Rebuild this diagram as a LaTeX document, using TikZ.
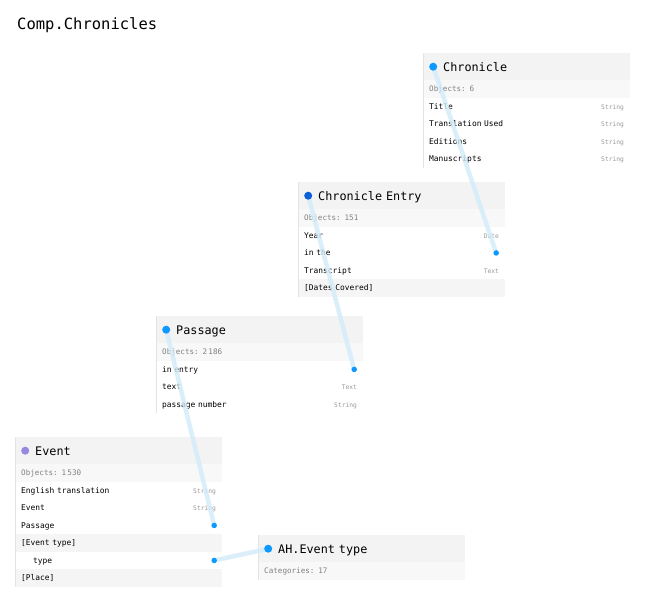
\documentclass[tikz,border=0pt]{standalone}
\usepackage{fontspec}
\setmonofont{DejaVu Sans Mono}
\usetikzlibrary{matrix,positioning}

\definecolor{hdrgray}{HTML}{F3F3F3}
\definecolor{subgray}{HTML}{F8F8F8}
\definecolor{rowgray}{HTML}{F5F5F5}
\definecolor{edgegray}{HTML}{E4E4E4}
\definecolor{dotblue}{HTML}{0D99FF}
\definecolor{dotdark}{HTML}{0B5FD8}
\definecolor{dotviolet}{HTML}{9787E0}
\definecolor{linkblue}{HTML}{D3EBFB}

\tikzset{
  tbl/.style={matrix of nodes, anchor=north west, inner sep=0pt, row sep=0pt,
    nodes={text width=195pt, inner xsep=6pt, inner ysep=0pt, outer sep=0pt,
      minimum height=17.5pt, text height=7.5pt, text depth=1.5pt, anchor=center,
      font=\ttfamily\fontsize{7.9}{9}\selectfont},
    row 1/.style={nodes={fill=hdrgray, minimum height=27pt, text height=10.5pt,
      text depth=1.5pt, font=\ttfamily\fontsize{11.8}{14}\selectfont,
      execute at begin node=\hspace*{14pt}}},
    row 2/.style={nodes={fill=subgray, text=black!50,
      font=\ttfamily\fontsize{7.6}{9}\selectfont}}},
  greyrow/.style={nodes={fill=rowgray}},
  typ/.style={anchor=base east, inner sep=0pt, text=black!40,
    font=\ttfamily\fontsize{6.3}{7}\selectfont},
  edge/.style={draw=edgegray, line width=0.8pt},
  link/.style={draw=linkblue, line width=4.5pt, opacity=0.8},
  hdot/.style={circle, inner sep=0pt, minimum size=8pt},
  adot/.style={circle, inner sep=0pt, minimum size=5.5pt, fill=dotblue}
}

\begin{document}
\begin{tikzpicture}[x=1pt,y=-1pt]
\useasboundingbox[fill=white] (0,0) rectangle (662,610);

\node[anchor=base west, inner sep=0pt, font=\ttfamily\fontsize{15.5}{18}\selectfont]
  (title) at (17,29.5) {Comp.Chronicles};

% tables
\matrix (chron) [tbl] at (423,53) {
  Chronicle \\
  Objects: 6 \\
  Title \\
  Translation Used \\
  Editions \\
  Manuscripts \\
};
\matrix (centry) [tbl, row 6/.style={greyrow}] at (298,182) {
  Chronicle Entry \\
  Objects: 151 \\
  Year \\
  in the \\
  Transcript \\
  {[Dates Covered]} \\
};
\matrix (passage) [tbl] at (156,316) {
  Passage \\
  Objects: 2\,186 \\
  in entry \\
  text \\
  passage number \\
};
\matrix (event) [tbl, row 6/.style={greyrow}, row 8/.style={greyrow}] at (15,437) {
  Event \\
  Objects: 1\,530 \\
  English translation \\
  Event \\
  Passage \\
  {[Event type]} \\
  \hspace*{12pt}type \\
  {[Place]} \\
};
\matrix (ahtype) [tbl] at (258,535) {
  AH.Event type \\
  Categories: 17 \\
};

\foreach \m in {chron,centry,passage,event,ahtype}
  \draw[edge] (\m.north west) -- (\m.south west);

% field types
\foreach \r in {3,4,5,6}
  \node[typ] (chron-t\r) at ([xshift=-6pt]chron-\r-1.base east) {String};
\node[typ] (centry-t3) at ([xshift=-6pt]centry-3-1.base east) {Date};
\node[typ] (centry-t5) at ([xshift=-6pt]centry-5-1.base east) {Text};
\node[typ] (passage-t4) at ([xshift=-6pt]passage-4-1.base east) {Text};
\node[typ] (passage-t5) at ([xshift=-6pt]passage-5-1.base east) {String};
\node[typ] (event-t3) at ([xshift=-6pt]event-3-1.base east) {String};
\node[typ] (event-t4) at ([xshift=-6pt]event-4-1.base east) {String};

% link ends
\coordinate (chron-hd) at ([xshift=10pt]chron-1-1.west);
\coordinate (centry-hd) at ([xshift=10pt]centry-1-1.west);
\coordinate (passage-hd) at ([xshift=10pt]passage-1-1.west);
\coordinate (event-hd) at ([xshift=10pt]event-1-1.west);
\coordinate (ahtype-hd) at ([xshift=10pt]ahtype-1-1.west);
\coordinate (centry-in) at ([xshift=-9pt]centry-4-1.east);
\coordinate (passage-in) at ([xshift=-9pt]passage-3-1.east);
\coordinate (event-psg) at ([xshift=-8pt]event-5-1.east);
\coordinate (event-typ) at ([xshift=-8pt]event-7-1.east);

% links
\draw[link] (chron-hd) -- (centry-in);
\draw[link] (centry-hd) -- (passage-in);
\draw[link] (passage-hd) -- (event-psg);
\draw[link] (event-typ) -- (ahtype-hd);

% dots
\node[hdot, fill=dotblue] (chron-dot) at (chron-hd) {};
\node[hdot, fill=dotdark] (centry-dot) at (centry-hd) {};
\node[hdot, fill=dotblue] (passage-dot) at (passage-hd) {};
\node[hdot, fill=dotviolet] (event-dot) at (event-hd) {};
\node[hdot, fill=dotblue] (ahtype-dot) at (ahtype-hd) {};
\node[adot] (centry-in-dot) at (centry-in) {};
\node[adot] (passage-in-dot) at (passage-in) {};
\node[adot] (event-psg-dot) at (event-psg) {};
\node[adot] (event-typ-dot) at (event-typ) {};
\end{tikzpicture}
\end{document}
